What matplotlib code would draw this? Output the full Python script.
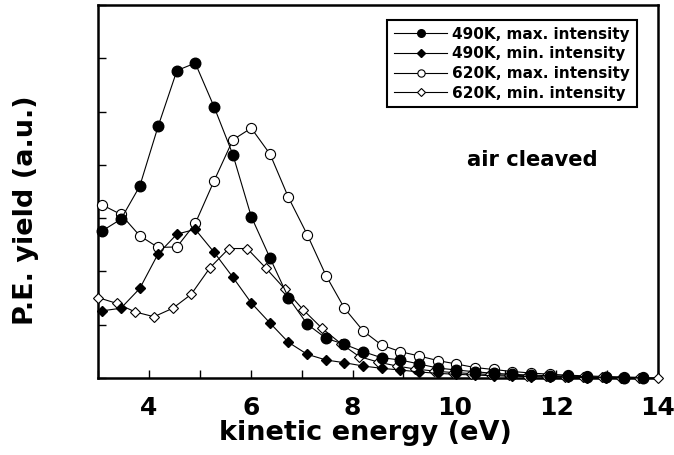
import matplotlib
matplotlib.use("Agg")
import matplotlib.pyplot as plt
from matplotlib.ticker import MultipleLocator, NullFormatter

plt.rcParams['font.family'] = ['DejaVu Sans']
plt.rcParams['font.weight'] = 'bold'

# kinetic energy grids (eV)
x_grid_a = [3.08, 3.45, 3.82, 4.18, 4.55, 4.91, 5.28, 5.65, 6.01, 6.38,
            6.74, 7.11, 7.48, 7.84, 8.21, 8.57, 8.94, 9.31, 9.67, 10.04,
            10.40, 10.77, 11.14, 11.50, 11.87, 12.23, 12.60, 12.97, 13.33, 13.70]
x_grid_b = [3.00, 3.37, 3.73, 4.10, 4.47, 4.83, 5.20, 5.57, 5.93, 6.30,
            6.67, 7.03, 7.40, 7.77, 8.13, 8.50, 8.87, 9.23, 9.60, 9.97,
            10.33, 10.70, 11.07, 11.43, 11.80, 12.17, 12.53, 12.90, 13.27, 13.63, 14.00]

# photoemission yield (a.u.)
y_490_max = [2.76, 2.98, 3.60, 4.72, 5.77, 5.91, 5.09, 4.19, 3.03, 2.25,
             1.51, 1.01, 0.745, 0.632, 0.494, 0.381, 0.338, 0.263, 0.188, 0.150,
             0.118, 0.088, 0.069, 0.056, 0.043, 0.038, 0.024, 0.013, 0.006, 0.006]
y_490_min = [1.26, 1.31, 1.68, 2.33, 2.70, 2.79, 2.36, 1.89, 1.41, 1.03,
             0.670, 0.445, 0.338, 0.287, 0.225, 0.182, 0.150, 0.113, 0.088, 0.069,
             0.056, 0.043, 0.034, 0.024, 0.019, 0.013, 0.009, 0.006, 0.004, 0.0]
y_620_max = [3.25, 3.07, 2.67, 2.45, 2.46, 2.90, 3.70, 4.47, 4.69, 4.20,
             3.39, 2.69, 1.92, 1.31, 0.882, 0.619, 0.494, 0.413, 0.328, 0.263,
             0.197, 0.160, 0.122, 0.094, 0.071, 0.053, 0.039, 0.028, 0.019, 0.011]
y_620_min = [1.51, 1.40, 1.24, 1.15, 1.31, 1.57, 2.07, 2.43, 2.43, 2.06,
             1.67, 1.28, 0.933, 0.647, 0.403, 0.300, 0.225, 0.169, 0.131, 0.103,
             0.084, 0.066, 0.053, 0.041, 0.032, 0.024, 0.019, 0.013, 0.009, 0.006, 0.0]

labels = ["490K, max. intensity", "490K, min. intensity",
          "620K, max. intensity", "620K, min. intensity"]

fig = plt.figure(figsize=(6.74, 4.55), dpi=100)
ax = fig.add_axes([0.1454, 0.1692, 0.8309, 0.8198])

lw = 0.8
ax.plot(x_grid_a, y_490_max, '-', color='black', lw=lw, marker='o', ms=7.6,
        mfc='black', mec='black', label=labels[0], clip_on=False, zorder=4)
ax.plot(x_grid_a, y_490_min, '-', color='black', lw=lw, marker='D', ms=5.6,
        mfc='black', mec='black', label=labels[1], clip_on=False, zorder=4)
ax.plot(x_grid_a, y_620_max, '-', color='black', lw=lw, marker='o', ms=7.3,
        mfc='white', mec='black', mew=0.8, label=labels[2], clip_on=False, zorder=3)
ax.plot(x_grid_b, y_620_min, '-', color='black', lw=lw, marker='D', ms=5.6,
        mfc='white', mec='black', mew=0.8, label=labels[3], clip_on=False, zorder=3)

ax.set_xlim(3, 14)
ax.set_ylim(0, 7)
ax.xaxis.set_major_locator(MultipleLocator(2))
ax.xaxis.set_minor_locator(MultipleLocator(1))
ax.yaxis.set_major_locator(MultipleLocator(1))
ax.yaxis.set_major_formatter(NullFormatter())
ax.tick_params(axis='both', which='both', direction='in', length=6, width=1.0,
               top=False, right=False)
ax.tick_params(axis='x', labelsize=18, pad=13)
for lab in ax.get_xticklabels():
    lab.set_fontweight('bold')
for s in ax.spines.values():
    s.set_linewidth(1.8)

ax.set_xlabel("kinetic energy (eV)", fontsize=19.5, fontweight='bold', va='center')
ax.xaxis.set_label_coords(0.477, -0.148)
ax.set_ylabel("P.E. yield (a.u.)", fontsize=19.5, fontweight='bold', va='center')
ax.yaxis.set_label_coords(-0.128, 0.45)

ax.text(0.775, 0.584, "air cleaved", transform=ax.transAxes, fontsize=15.2,
        fontweight='bold', ha='center', va='center')

leg = ax.legend(loc='upper left', bbox_to_anchor=(0.516, 0.960), fancybox=False,
                edgecolor='black', framealpha=1, prop={'size': 11, 'weight': 'bold'},
                markerscale=0.72, handlelength=3.5, handletextpad=0.3,
                labelspacing=0.3, borderpad=0.45, borderaxespad=0.0)
leg.get_frame().set_linewidth(1.5)

fig.savefig("out.png", dpi=100)
